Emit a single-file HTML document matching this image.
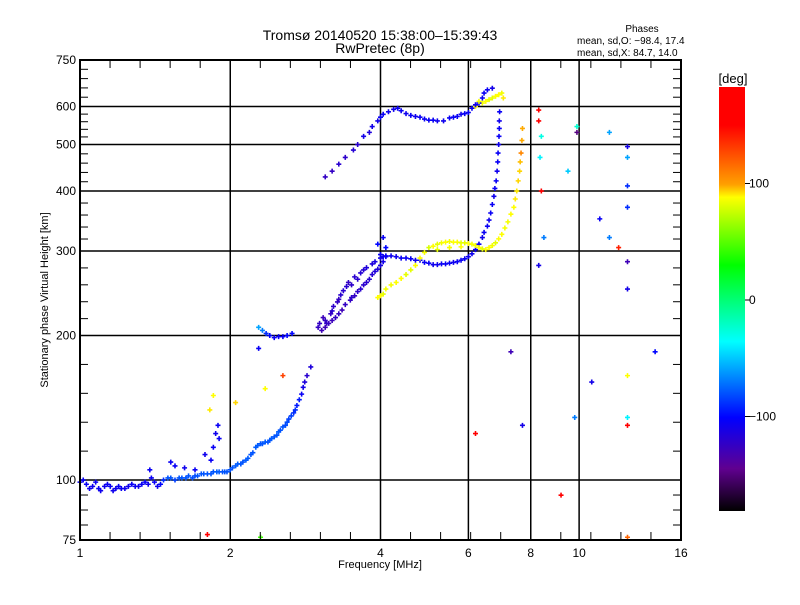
<!DOCTYPE html>
<html><head><meta charset="utf-8"><style>
body{margin:0;background:#fff;}
svg text{font-family:"Liberation Sans",sans-serif;font-size:12px;fill:#000;}
</style></head><body>
<svg id="chart" width="800" height="600" xmlns="http://www.w3.org/2000/svg">
<rect width="800" height="600" fill="#fff"/>
<text x="380" y="40" text-anchor="middle" style="font-size:14px">Tromsø 20140520 15:38:00–15:39:43</text>
<text x="380" y="53" text-anchor="middle" style="font-size:14px">RwPretec (8p)</text>
<text x="642" y="32" text-anchor="middle" style="font-size:10px">Phases</text>
<text x="577" y="44" style="font-size:10px">mean, sd,O: −98.4, 17.4</text>
<text x="577" y="56" style="font-size:10px">mean, sd,X:  84.7, 14.0</text>
<g id="grid"></g>
<g id="points"></g>
<rect x="80" y="60" width="601" height="480" fill="none" stroke="#000" stroke-width="2"/>
<g id="axes"></g>
<text x="380" y="568" text-anchor="middle" style="font-size:11px">Frequency [MHz]</text>
<text transform="translate(48,300) rotate(-90)" text-anchor="middle" style="font-size:11px">Stationary phase Virtual Height [km]</text>
<defs><linearGradient id="cb" x1="0" y1="0" x2="0" y2="1">
<stop offset="0" stop-color="#ff0000"/><stop offset="0.09" stop-color="#ff0000"/>
<stop offset="0.23" stop-color="#ffa000"/><stop offset="0.26" stop-color="#ffff00"/>
<stop offset="0.42" stop-color="#00ff00"/><stop offset="0.60" stop-color="#00ffff"/>
<stop offset="0.78" stop-color="#0000ff"/><stop offset="0.90" stop-color="#600090"/>
<stop offset="1" stop-color="#000000"/></linearGradient></defs>
<rect x="719" y="87" width="26" height="424" fill="url(#cb)"/>
<text x="733" y="83" text-anchor="middle" style="font-size:13px">[deg]</text>
<g id="cbticks"></g>
</svg>
<script>
const xTicks=[1,2,4,6,8,10,16];
const yTicks=[75,100,200,300,400,500,600,750];
const cbTicks=[100,0,-100];
const freqsMain=[1.0,1.03,1.06,1.09,1.12,1.15,1.18,1.21,1.25,1.29,1.33,1.37,1.41,1.45,1.5,1.55,1.6,1.65,1.7,1.75,1.8,1.85,1.9,1.95,2.0,2.05,2.1,2.15,2.2,2.25,2.3,2.35,2.4,2.45,2.5,2.55,2.6,2.65,2.7,2.75,2.8,2.85,2.9,
1.52,1.55,1.62,1.7,1.78,1.83,1.85,1.87,1.89,1.38,1.9,1.85,1.82,2.05,2.35,2.55,1.8,2.3,
2.28,2.32,2.36,2.4,2.45,2.5,2.55,2.6,2.66,2.28,
3.0,3.1,3.2,3.3,3.37,3.45,3.55,3.7,3.85,4.0,4.1,3.05,3.15,3.25,3.35,3.48,3.55,3.65,3.8,3.95,4.05,
4.1,4.3,4.5,4.8,5.1,5.4,5.7,6.0,6.2,6.4,6.55,6.65,6.75,6.82,6.87,6.9,6.92,6.93,
3.95,4.05,4.2,4.4,4.6,4.8,5.0,5.3,5.6,5.9,6.2,6.5,6.8,7.0,7.2,7.4,7.5,7.6,7.65,7.7,6.2,6.4,6.6,6.8,7.0,7.05,
3.1,3.3,3.53,3.7,3.85,4.0,4.15,4.33,4.5,4.8,5.1,5.35,5.7,6.0,6.3,6.55,6.7,
8.3,8.3,8.4,8.35,8.4,8.5,8.3,9.9,9.9,9.5,11.5,12.5,12.5,12.5,12.5,11,11.5,12,12.5,12.5,14.2,12.5,10.6,12.5,12.5,9.8,7.7,6.2,7.3,9.2,12.5];
const heightsMain=[99,98,97,96,97,97,96,96,97,97,98,98,99,98,101,100,101,102,102,103,103,104,104,104,105,107,108,110,113,117,119,120,121,123,126,129,132,136,140,147,156,165,172,
109,107,106,105,113,110,117,125,130,105,122,150,140,145,155,165,77,76,
208,205,202,200,198,199,199,200,202,188,
208,215,225,238,248,258,265,274,282,290,293,205,212,218,226,237,242,250,262,275,285,
292,292,290,287,281,282,285,292,302,320,338,360,390,420,460,500,540,585,
240,244,255,263,274,290,305,312,313,312,308,302,312,325,345,370,400,440,480,540,600,610,620,630,640,625,
428,455,487,520,545,570,585,595,580,570,562,560,572,583,610,650,655,
590,560,520,470,400,320,280,545,530,440,530,495,470,410,370,350,320,305,285,250,185,165,160,135,130,135,130,125,185,93,76];
const phasesMain=[-105,-105,-108,-105,-108,-105,-108,-105,-108,-105,-105,-108,-105,-100,-80,-85,-80,-80,-82,-80,-80,-80,-78,-80,-80,-78,-80,-78,-80,-78,-80,-78,-80,-80,-78,-80,-82,-85,-90,-95,-110,-120,-115,
-105,-105,-108,-105,-108,-105,-105,-108,-105,-105,-105,80,85,90,80,130,160,40,
-60,-70,-90,-100,-105,-105,-105,-100,-100,-105,
-125,-125,-120,-125,-120,-125,-120,-118,-115,-110,-105,-130,-128,-125,-130,-125,-125,-120,-118,-115,-110,
-105,-108,-105,-105,-108,-105,-105,-108,-105,-108,-105,-105,-108,-105,-105,-108,-105,-105,
80,75,78,80,75,80,72,78,80,75,78,80,75,80,78,80,85,90,110,100,80,78,75,80,78,85,
-125,-120,-118,-110,-110,-105,-108,-105,-108,-105,-105,-108,-105,-105,-108,-105,-110,
160,180,-30,-40,150,-70,-110,-25,-150,-50,-60,-110,-60,-90,-90,-105,-70,140,-130,-110,-100,80,-110,-40,160,-70,-110,180,-130,150,120];
const freqsExtra=[1.015,1.045,1.075,1.1,1.135,1.165,1.195,1.23,1.27,1.31,1.35,1.39,1.43,1.47,1.52,1.58,1.63,1.68,1.72,1.77,1.83,1.88,1.93,1.97,2.02,2.07,2.12,2.17,2.22,2.27,2.32,2.38,2.42,2.48,2.52,2.58,2.62,2.68,2.72,2.78,2.82,
3.02,3.07,3.12,3.18,3.22,3.28,3.33,3.42,3.5,3.6,3.65,3.75,3.9,4.05,3.1,3.2,3.3,3.4,3.5,3.6,3.7,3.75,3.85,3.9,4.0,
4.0,4.2,4.4,4.6,4.7,4.9,5.0,5.2,5.3,5.5,5.6,5.8,5.9,6.1,6.3,6.45,6.6,6.7,6.78,6.85,6.88,6.91,6.92,3.95,4.05,4.1,
4.0,4.1,4.3,4.5,4.7,4.9,5.1,5.2,5.4,5.5,5.7,5.8,6.0,6.1,6.3,6.4,6.6,6.7,6.9,7.1,7.3,7.45,7.55,7.62,7.68,5.2,5.5,5.8,6.3,6.5,6.7,6.9,
3.2,3.4,3.6,3.8,3.95,4.05,4.25,4.4,4.6,4.7,4.9,5.0,5.2,5.5,5.6,5.8,5.9,6.1,6.2,6.4,6.45];
const heightsExtra=[100,96,99,95,98,95,97,96,98,97,99,101,97,100,101,101,101,101,102,103,103,104,104,104,106,108,109,111,114,118,119,120,122,124,127,130,134,138,143,151,160,
212,218,212,222,230,235,243,253,255,262,270,277,285,292,208,215,222,232,240,247,255,258,268,272,280,
295,293,290,289,287,284,283,281,282,283,284,287,289,296,310,328,348,375,405,440,480,520,560,310,320,305,
242,250,258,268,280,298,307,310,313,314,313,312,311,310,305,303,305,308,318,335,358,385,420,460,510,302,305,306,615,615,625,635,
440,470,500,530,560,578,592,588,575,572,565,562,560,568,570,578,580,595,605,625,640];
const phasesExtra=[-105,-108,-105,-108,-105,-108,-105,-108,-105,-108,-105,-105,-108,-90,-80,-80,-80,-82,-80,-80,-80,-78,-80,-80,-80,-78,-80,-78,-80,-78,-80,-80,-78,-80,-80,-82,-85,-90,-95,-105,-115,
-125,-128,-125,-125,-122,-125,-120,-120,-122,-120,-118,-115,-112,-108,-130,-128,-125,-125,-122,-122,-120,-120,-118,-115,-112,
-105,-108,-105,-105,-108,-105,-105,-108,-105,-105,-108,-105,-105,-108,-105,-105,-108,-105,-105,-108,-105,-105,-108,-100,-105,-100,
80,78,80,75,80,78,80,75,80,78,80,75,80,78,80,75,80,78,80,78,80,85,90,95,100,75,78,80,78,80,75,80,
-125,-122,-120,-115,-110,-105,-108,-105,-105,-108,-105,-105,-108,-105,-105,-108,-105,-105,-108,-105,-105];
const freqs=freqsMain.concat(freqsExtra);
const heights=heightsMain.concat(heightsExtra);
const phases=phasesMain.concat(phasesExtra);
const NS='http://www.w3.org/2000/svg';
const X0=80,X1=681,Y0=540,Y1=60;
function xs(f){return X0+(X1-X0)*Math.log(f)/Math.log(16);}
function ys(h){return Y0-(Y0-Y1)*Math.log(h/75)/Math.log(10);}
const cstops=[[-182,[0,0,0]],[-146,[96,0,144]],[-101,[0,0,255]],[-37,[0,255,255]],[28,[0,255,0]],[80,[255,255,0]],[100,[255,170,0]],[149,[255,0,0]],[190,[255,0,0]]];
function col(p){for(let i=0;i<cstops.length-1;i++){const a=cstops[i],b=cstops[i+1];if(p<=b[0]){const t=Math.max(0,(p-a[0])/(b[0]-a[0]));const c=a[1].map((v,k)=>Math.round(v+(b[1][k]-v)*t));return 'rgb('+c.join(',')+')';}}return 'rgb(255,0,0)';}
function mk(tag,attrs,parent){const e=document.createElementNS(NS,tag);for(const k in attrs)e.setAttribute(k,attrs[k]);parent.appendChild(e);return e;}
const grid=document.getElementById('grid'),axes=document.getElementById('axes');
xTicks.forEach(v=>{const x=xs(v);
 const l=mk('line',{x1:x,x2:x,y1:Y1,y2:Y0,stroke:'#000','stroke-width':1.5},grid);
 
 
 const t=mk('text',{x:x,y:557,'text-anchor':'middle'},axes);t.textContent=v;
 
 
});
yTicks.forEach(v=>{const y=ys(v);
 if(v!==75&&v!==750){const l=mk('line',{x1:X0,x2:X1,y1:y,y2:y,stroke:'#000','stroke-width':1.5},grid);
 
 }
 const t=mk('text',{x:76,y:y+4,'text-anchor':'end'},axes);t.textContent=v;
 
 
});
const xm=[1,2,4,8,16];
for(let i=0;i<xm.length-1;i++){const a=xs(xm[i]),b=xs(xm[i+1]);for(let k=1;k<5;k++){const x=a+(b-a)*k/5;
 mk('line',{x1:x,x2:x,y1:Y0,y2:Y0-8,stroke:'#000','stroke-width':1},axes);
 mk('line',{x1:x,x2:x,y1:Y1,y2:Y1+8,stroke:'#000','stroke-width':1},axes);}}
const ym=[75,100,200,300,400,500,600,750];
for(let i=0;i<ym.length-1;i++){const a=ys(ym[i]),b=ys(ym[i+1]);const n=(i===0)?4:5;for(let k=1;k<n;k++){const y=a+(b-a)*k/n;
 mk('line',{x1:X0,x2:X0+8,y1:y,y2:y,stroke:'#000','stroke-width':1},axes);
 mk('line',{x1:X1,x2:X1-8,y1:y,y2:y,stroke:'#000','stroke-width':1},axes);}}
const pts=document.getElementById('points');
for(let i=0;i<freqs.length;i++){const x=xs(freqs[i]),y=ys(heights[i]),c=col(phases[i]);
 const p=mk('path',{d:`M${x-2.5},${y}H${x+2.5}M${x},${y-2.5}V${y+2.5}`,stroke:c,'stroke-width':1.6,fill:'none'},pts);
 
 
}
const cbt=document.getElementById('cbticks');
cbTicks.forEach(v=>{const y=300-v*1.165;
 mk('line',{x1:745,x2:750,y1:y,y2:y,stroke:'#000'},cbt);
 const t=mk('text',{x:749,y:y+4},cbt);t.textContent=v===-100?'−100':v;
 
 
});
</script>
</body></html>
